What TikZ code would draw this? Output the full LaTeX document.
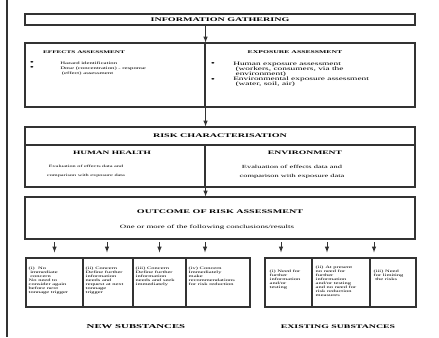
\documentclass[tikz,border=0pt]{standalone}
\usepackage{fontspec}
\setmainfont[FakeStretch=1.8]{Liberation Serif}
\usetikzlibrary{arrows,calc,positioning}

\begin{document}
\begin{tikzpicture}[x=0.75pt,y=-0.75pt,
  box/.style={draw=black!80,line width=0.8pt,inner sep=0pt},
  head/.style={inner sep=0pt,font=\bfseries\fontsize{#1}{#1}\selectfont},
  body/.style={inner sep=0pt,align=center,font=\fontsize{#1}{6.75}\selectfont},
  blist/.style={inner sep=0pt,anchor=north west,align=left,font=\fontsize{#1}{3.75}\selectfont},
  bul/.style={inner sep=0pt,font=\fontsize{5}{5}\selectfont},
  tiny/.style={inner sep=0pt,anchor=north west,align=left,font=\fontsize{2.7}{3}\selectfont},
  arr/.style={draw=black!80,line width=0.5pt,-latex}]
\useasboundingbox (0,0) rectangle (439,337);
\draw[line width=0.8pt,black!80] (7,0) -- (7,337);

% information gathering
\node[box,minimum width=292.5pt,minimum height=8.25pt] (info) at (220,19.5)
  {\bfseries\fontsize{4.2}{4.2}\selectfont INFORMATION GATHERING};

% effects and exposure
\node[box,minimum width=135pt,minimum height=48pt] (effects) at (115,75) {};
\node[box,minimum width=157.5pt,minimum height=48pt] (exposure) at (310,75) {};
\node[head=3.0] (efft) at (84,52) {EFFECTS ASSESSMENT};
\node[head=3.2] (expt) at (295,52) {EXPOSURE ASSESSMENT};
\node[bul] (b1) at (32,63) {•};
\node[bul] (b2) at (32,68) {•};
\node[blist=2.8] (efflist) at (60,61.5) {Hazard identification\\Dose (concentration) - response\\\ (effect) assessment};
\node[bul] (b3) at (213,64) {•};
\node[bul] (b4) at (213,80) {•};
\node[blist=3.9] (explist) at (233,61.5) {Human exposure assessment\\\ (workers, consumers, via the\\\ environment)\\[0.6pt]Environmental exposure assessment\\\ (water, soil, air)};

% risk characterisation
\node[box,minimum width=292.5pt,minimum height=13.5pt] (risk) at (220,136)
  {\bfseries\fontsize{4.2}{4.2}\selectfont RISK CHARACTERISATION};
\node[box,minimum width=135pt,minimum height=31.5pt] (health) at (115,166) {};
\node[box,minimum width=157.5pt,minimum height=31.5pt] (env) at (310,166) {};
\node[head=3.9] (healtht) at (112,153) {HUMAN HEALTH};
\node[head=4.0] (envt) at (305,153) {ENVIRONMENT};
\node[body=2.6] (healthtxt) at (86,171.5) {Evaluation of effects data and\\comparison with exposure data};
\node[body=3.5] (envtxt) at (292,171.5) {Evaluation of effects data and\\comparison with exposure data};

% outcome
\node[box,minimum width=292.5pt,minimum height=31.5pt] (outcome) at (220,218) {};
\node[head=4.2] (outt) at (220,212) {OUTCOME OF RISK ASSESSMENT};
\node[body=3.7] (outtxt) at (207,227) {One or more of the following conclusions/results};

\draw[arr] (info.south -| effects.north east) -- (effects.north east);
\draw[arr] (effects.south east) -- (risk.north -| effects.south east);
\draw[arr] (health.south east) -- (outcome.north -| health.south east);

% new substances
\node[box,minimum width=42.75pt,minimum height=36.75pt] (n1) at (54.5,282.5) {};
\node[box,minimum width=37.5pt,minimum height=36.75pt] (n2) at (108,282.5) {};
\node[box,minimum width=39.75pt,minimum height=36.75pt] (n3) at (159.5,282.5) {};
\node[box,minimum width=48pt,minimum height=36.75pt] (n4) at (218,282.5) {};
\node[tiny] (n1txt) at ($(n1.north west)+(3,9)$) {(i)\ \ No\\\ immediate\\\ concern\\No need to\\consider again\\before next\\tonnage trigger};
\node[tiny] (n2txt) at ($(n2.north west)+(3,9)$) {(ii) Concern\\Define further\\information\\needs and\\request at next\\tonnage\\trigger};
\node[tiny] (n3txt) at ($(n3.north west)+(3,9)$) {(iii) Concern\\Define further\\information\\needs and seek\\immediately};
\node[tiny] (n4txt) at ($(n4.north west)+(3,9)$) {(iv) Concern\\Immediately\\make\\recommendations\\for risk reduction};

% existing substances
\node[box,minimum width=35.25pt,minimum height=36.75pt] (e1) at (288.5,282.5) {};
\node[box,minimum width=43.5pt,minimum height=36.75pt] (e2) at (341,282.5) {};
\node[box,minimum width=34.5pt,minimum height=36.75pt] (e3) at (393,282.5) {};
\node[tiny] (e1txt) at ($(e1.north west)+(5,12)$) {(i) Need for\\further\\information\\and/or\\testing};
\node[tiny] (e2txt) at ($(e2.north west)+(4,8)$) {(ii) At present\\no need for\\further\\information\\and/or testing\\and no need for\\risk reduction\\measures};
\node[tiny] (e3txt) at ($(e3.north west)+(4,12)$) {(iii) Need\\for limiting\\\ the risks};

\foreach \b/\dx in {n1/0,n2/-1,n3/0,n4/-13,e1/-7.5,e2/-14,e3/-19}
  \draw[arr] ($(\b.north)+(\dx,-15)$) -- ($(\b.north)+(\dx,-5)$);

\node[head=4.5] (newt) at (136,327) {NEW SUBSTANCES};
\node[head=4.1] (exit) at (338,327) {EXISTING SUBSTANCES};
\end{tikzpicture}
\end{document}
